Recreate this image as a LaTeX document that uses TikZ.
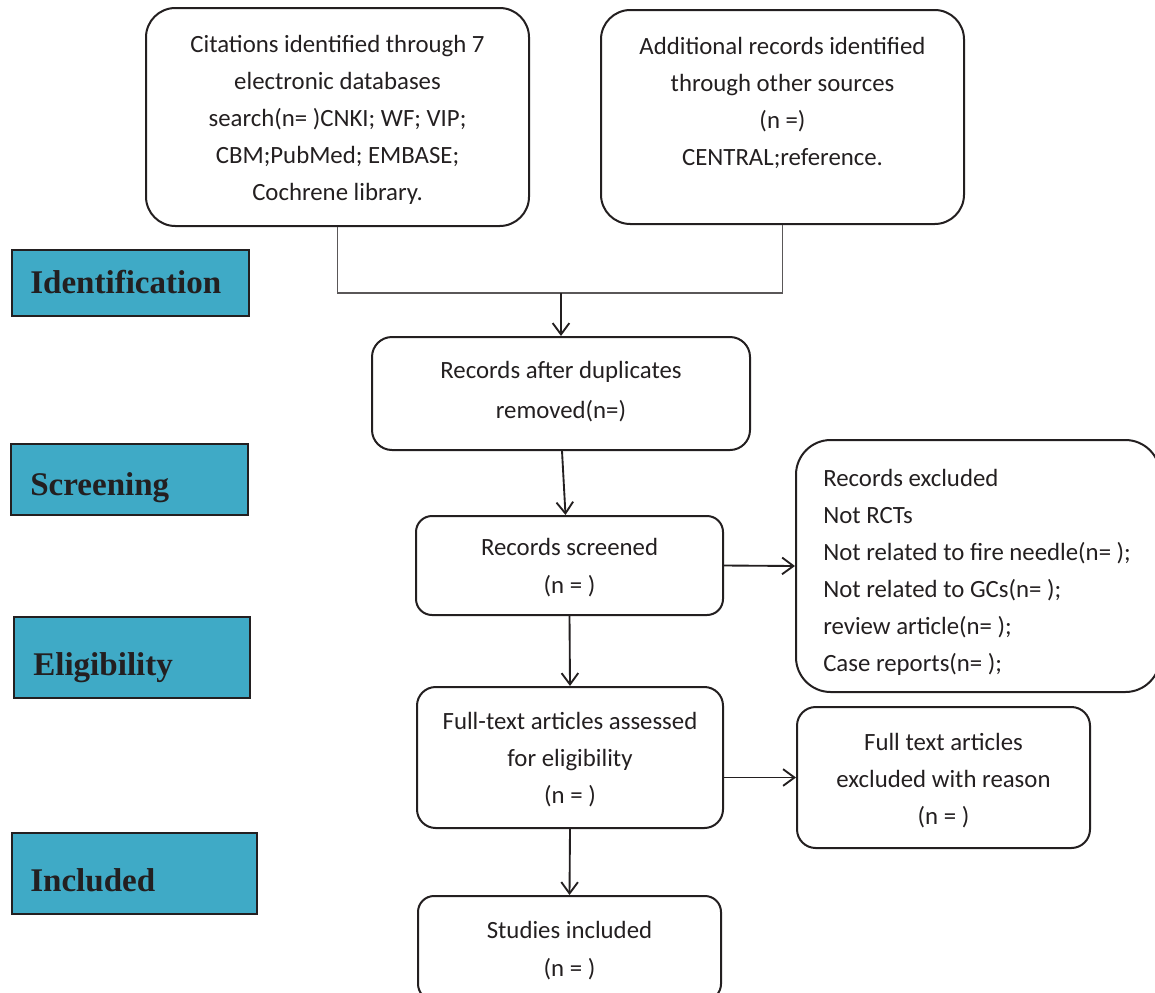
\documentclass[tikz,border=0pt]{standalone}
\usepackage{fontspec}
\setmainfont{Carlito}
\newfontfamily\labfont{Liberation Serif}
\usetikzlibrary{arrows.meta,calc}
\definecolor{ink}{HTML}{231F20}
\definecolor{labfill}{HTML}{3FAAC6}
\begin{document}
\begin{tikzpicture}[x=0.75pt,y=-0.75pt,
  box/.style={draw=ink, line width=1.5pt, rounded corners=14pt, align=center, text=ink,
    font=\fontsize{18.6}{27.75}\selectfont, inner sep=0pt},
  txt/.style={align=center, text=ink, font=\fontsize{18.6}{27.75}\selectfont, inner sep=0pt},
  lab/.style={draw=ink, line width=1.2pt, fill=labfill, inner sep=0pt},
  labtxt/.style={anchor=base west, font=\labfont\bfseries\fontsize{24.8}{28}\selectfont, text=ink, inner sep=0pt},
  arr/.style={draw=ink, line width=1.4pt, -{Straight Barb[length=8.5pt,width=12.5pt,line width=1.4pt]}},
  thinline/.style={draw=ink!75, line width=0.8pt}]
\useasboundingbox (0,0) rectangle (1155,992);

% left stage labels
\node[lab, minimum width=177.75pt, minimum height=49.5pt] (l1) at (130.5,283) {};
\node[labtxt] (l1t) at (30,293) {Identification};
\node[lab, minimum width=177.75pt, minimum height=53.25pt] (l2) at (129.5,479.5) {};
\node[labtxt] (l2t) at (30,495) {Screening};
\node[lab, minimum width=177pt, minimum height=60.75pt] (l3) at (132,657.5) {};
\node[labtxt] (l3t) at (33,675) {Eligibility};
\node[lab, minimum width=183.75pt, minimum height=60.75pt] (l4) at (134.5,873.5) {};
\node[labtxt] (l4t) at (30,891) {Included};

% main boxes
\node[box, rounded corners=22pt, minimum width=287.25pt, minimum height=163.5pt] (b1) at (337.5,117) {};
\node[txt] (b1t) at (337.5,120)
  {Citations identified through 7\\electronic databases\\search(n= )CNKI; WF; VIP;\\CBM;PubMed; EMBASE;\\Cochrene library.};
\node[box, rounded corners=22pt, minimum width=272.25pt, minimum height=160.5pt] (b2) at (782.5,117) {};
\node[txt] (b2t) at (782.5,103)
  {Additional records identified\\through other sources\\(n =)\\CENTRAL;reference.};
\node[box, rounded corners=15pt, minimum width=283.5pt, minimum height=84.75pt] (b3) at (561,393.5) {};
\node[txt, font=\fontsize{18.6}{30}\selectfont] (b3t) at (561,392)
  {Records after duplicates\\removed(n=)};
\node[box, rounded corners=12pt, minimum width=230.25pt, minimum height=74.25pt] (b4) at (569.5,565.5) {};
\node[txt, font=\fontsize{18.6}{28.5}\selectfont] (b4t) at (569.5,568)
  {Records screened\\(n = )};
\node[box, rounded corners=26pt, minimum width=273pt, minimum height=189pt] (b5) at (978,566) {};
\node[txt, align=left, anchor=west] (b5t) at (823,572)
  {Records excluded\\Not RCTs\\Not related to fire needle(n= );\\Not related to GCs(n= );\\review article(n= );\\Case reports(n= );};
\node[box, rounded corners=14pt, minimum width=229.5pt, minimum height=105.75pt] (b6) at (570,757.5) {};
\node[txt] (b6t) at (570,760)
  {Full-text articles assessed\\for eligibility\\(n = )};
\node[box, rounded corners=14pt, minimum width=219.75pt, minimum height=105.75pt] (b7) at (943.5,777.5) {};
\node[txt] (b7t) at (943.5,780.5)
  {Full text articles\\excluded with reason\\(n = )};
\node[box, rounded corners=12pt, minimum width=227.25pt, minimum height=78pt] (b8) at (569.5,948) {};
\node[txt, font=\fontsize{18.6}{28.5}\selectfont] (b8t) at (569.5,950.5)
  {Studies included\\(n = )};

% connectors
\coordinate (j) at (561,293);
\draw[thinline] (b1.south) |- (j) -| (b2.south);
\draw[arr] (j) -- (b3.north);
\draw[arr] ($(b3.south)+(1,0)$) -- ($(b4.north)+(-4,0)$);
\draw[arr] (b4.east) -- (b5.west);
\draw[arr] (b4.south) -- (b6.north);
\draw[arr] (b6.east |- b7.west) -- (b7.west);
\draw[arr] (b6.south) -- (b8.north);
\end{tikzpicture}
\end{document}
